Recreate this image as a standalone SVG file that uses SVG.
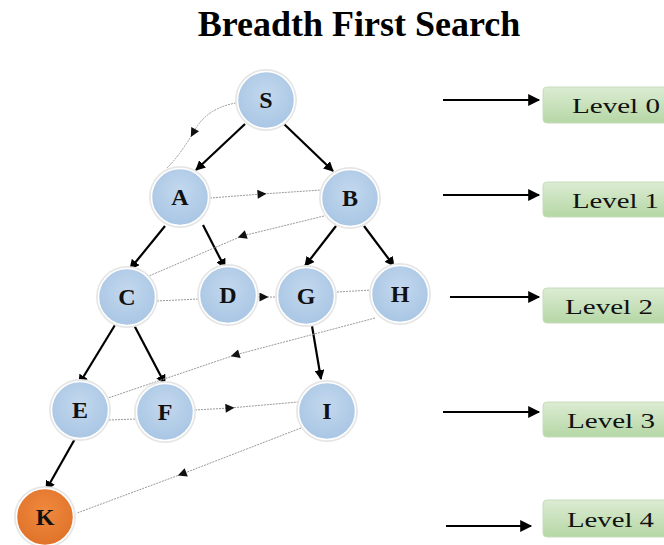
<svg xmlns="http://www.w3.org/2000/svg" width="664" height="545" viewBox="0 0 664 545">
<defs>
<radialGradient id="blue" cx="50%" cy="40%" r="60%">
<stop offset="0" stop-color="#c3d8ee"/>
<stop offset="1" stop-color="#a9c6e4"/>
</radialGradient>
<radialGradient id="orange" cx="50%" cy="40%" r="60%">
<stop offset="0" stop-color="#ef8a3f"/>
<stop offset="1" stop-color="#e0722a"/>
</radialGradient>
<linearGradient id="green" x1="0" y1="0" x2="0" y2="1">
<stop offset="0" stop-color="#dcecd3"/>
<stop offset="1" stop-color="#b5d7a5"/>
</linearGradient>
<marker id="ah" viewBox="0 0 10 10" refX="9" refY="5" markerWidth="10" markerHeight="10" markerUnits="userSpaceOnUse" orient="auto">
<path d="M0,0 L10,5 L0,10 z" fill="#000"/>
</marker>
<marker id="bh" viewBox="0 0 10 10" refX="9" refY="5" markerWidth="14" markerHeight="12" markerUnits="userSpaceOnUse" orient="auto">
<path d="M0,0 L10,5 L0,10 z" fill="#000"/>
</marker>
<marker id="mh" viewBox="0 0 10 10" refX="5" refY="5" markerWidth="10" markerHeight="9" markerUnits="userSpaceOnUse" orient="auto">
<path d="M0,0 L10,5 L0,10 z" fill="#111"/>
</marker>
</defs>
<style>
.title{font-family:"Liberation Serif",serif;font-weight:bold;font-size:36px;fill:#000}
.nl{font-family:"Liberation Serif",serif;font-weight:bold;font-size:24px;fill:#111;text-anchor:middle}
.lv{font-family:"Liberation Serif",serif;font-size:22px;fill:#111}
.ring{fill:#e6e6e6}
.nb{fill:url(#blue);stroke:#fff;stroke-width:1.5}
.no{fill:url(#orange);stroke:#fff;stroke-width:1.5}
.edge{stroke:#000;stroke-width:2.2;fill:none;marker-end:url(#ah)}
.dot{stroke:#9a9a9a;stroke-width:1;stroke-dasharray:2 1;fill:none}
.dotm{stroke:#9a9a9a;stroke-width:1;stroke-dasharray:2 1;fill:none;marker-mid:url(#mh)}
.larr{stroke:#000;stroke-width:2.2;fill:none;marker-end:url(#bh)}
.box{fill:url(#green);stroke:#c8dcbc;stroke-width:1}
</style>
<rect width="664" height="545" fill="#fff"/>
<text class="title" x="359" y="36" text-anchor="middle">Breadth First Search</text>

<g id="connectors">
<line class="edge" x1="245" y1="124" x2="196" y2="170"/>
<line class="edge" x1="284" y1="124" x2="333" y2="171"/>
<line class="edge" x1="165" y1="226" x2="130" y2="269"/>
<line class="edge" x1="203" y1="225" x2="225" y2="268"/>
<line class="edge" x1="336" y1="226" x2="305" y2="266"/>
<line class="edge" x1="364" y1="226" x2="394" y2="266"/>
<line class="edge" x1="115" y1="325" x2="79" y2="384"/>
<line class="edge" x1="134" y1="325" x2="165" y2="384"/>
<line class="edge" x1="312" y1="326" x2="321" y2="379"/>
<line class="edge" x1="76" y1="437" x2="46" y2="490"/>
<path class="dotm" d="M236,103 Q206,108 193,133 Q180,155 167,168"/>
<path class="dotm" d="M210,198 L262,194 L321,190"/>
<path class="dotm" d="M324,216 L242,236 L149,276"/>
<line class="dot" x1="157" y1="301" x2="199" y2="299"/>
<path class="dotm" d="M258,297 L264,297 L276,297"/>
<line class="dot" x1="337" y1="292" x2="372" y2="290"/>
<path class="dotm" d="M375,318 L235,355 L108,398"/>
<line class="dot" x1="109" y1="420" x2="136" y2="419"/>
<path class="dotm" d="M195,410 L230,408 L298,402"/>
<path class="dotm" d="M301,428 L182,474 L77,513"/>
</g>

<g id="node-S"><circle class="ring" cx="266" cy="100" r="31"/><circle class="nb" cx="266" cy="100" r="28.5"/><text class="nl" x="266" y="108">S</text></g>
<g id="node-A"><circle class="ring" cx="180" cy="197" r="31"/><circle class="nb" cx="180" cy="197" r="28.5"/><text class="nl" x="180" y="205">A</text></g>
<g id="node-B"><circle class="ring" cx="350" cy="198" r="31"/><circle class="nb" cx="350" cy="198" r="28.5"/><text class="nl" x="350" y="206">B</text></g>
<g id="node-C"><circle class="ring" cx="127" cy="297" r="31"/><circle class="nb" cx="127" cy="297" r="28.5"/><text class="nl" x="127" y="305">C</text></g>
<g id="node-D"><circle class="ring" cx="228" cy="295" r="31"/><circle class="nb" cx="228" cy="295" r="28.5"/><text class="nl" x="228" y="303">D</text></g>
<g id="node-G"><circle class="ring" cx="306" cy="296" r="31"/><circle class="nb" cx="306" cy="296" r="28.5"/><text class="nl" x="306" y="304">G</text></g>
<g id="node-H"><circle class="ring" cx="400" cy="294" r="31"/><circle class="nb" cx="400" cy="294" r="28.5"/><text class="nl" x="400" y="302">H</text></g>
<g id="node-E"><circle class="ring" cx="80" cy="410" r="31"/><circle class="nb" cx="80" cy="410" r="28.5"/><text class="nl" x="80" y="418">E</text></g>
<g id="node-F"><circle class="ring" cx="165" cy="412" r="31"/><circle class="nb" cx="165" cy="412" r="28.5"/><text class="nl" x="165" y="420">F</text></g>
<g id="node-I"><circle class="ring" cx="327" cy="411" r="31"/><circle class="nb" cx="327" cy="411" r="28.5"/><text class="nl" x="327" y="419">I</text></g>
<g id="node-K"><circle class="ring" cx="45" cy="517" r="31"/><circle class="no" cx="45" cy="517" r="28.5"/><text class="nl" x="45" y="525">K</text></g>

<g id="levels">
<line class="larr" x1="443" y1="100" x2="539" y2="100"/>
<line class="larr" x1="443" y1="195" x2="539" y2="195"/>
<line class="larr" x1="450" y1="297" x2="539" y2="297"/>
<line class="larr" x1="443" y1="412" x2="539" y2="412"/>
<line class="larr" x1="446" y1="526" x2="531" y2="526"/>
</g>
<g id="level-0"><rect class="box" x="543" y="87" width="130" height="36" rx="4"/><text class="lv" x="572" y="113" textLength="88" lengthAdjust="spacingAndGlyphs">Level 0</text></g>
<g id="level-1"><rect class="box" x="543" y="182" width="130" height="35" rx="4"/><text class="lv" x="572" y="208" textLength="87" lengthAdjust="spacingAndGlyphs">Level 1</text></g>
<g id="level-2"><rect class="box" x="543" y="288" width="130" height="35" rx="4"/><text class="lv" x="565" y="314" textLength="88" lengthAdjust="spacingAndGlyphs">Level 2</text></g>
<g id="level-3"><rect class="box" x="543" y="402" width="130" height="35" rx="4"/><text class="lv" x="567" y="428" textLength="88" lengthAdjust="spacingAndGlyphs">Level 3</text></g>
<g id="level-4"><rect class="box" x="543" y="500" width="130" height="37" rx="4"/><text class="lv" x="567" y="527" textLength="87" lengthAdjust="spacingAndGlyphs">Level 4</text></g>
</svg>
